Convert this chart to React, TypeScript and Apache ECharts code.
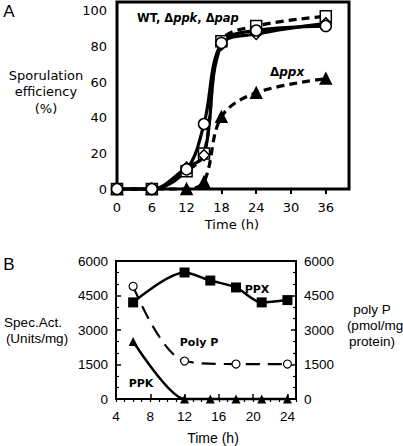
import React, { useEffect, useRef } from "react";
import * as echarts from "echarts";

// Panel A: sporulation efficiency (%)
const aTime = [0, 6, 12, 15, 18, 24, 36];
const wt = [0, 0, 11, 36.5, 82, 89, 91.5];
const dppk = [0, 0, 12, 19, 81, 87, 93];
const dpap = [0, 0, 10, 20, 83, 91.5, 97];
const dppx = [0, 0, 0, 4, 40.5, 54, 62];
const aXTicks = [0, 6, 12, 18, 24, 30, 36];
const aYTicks = [0, 20, 40, 60, 80, 100];

// Panel B
const bTime = [6, 12, 15, 18, 21, 24];
const ppx = [4200, 5500, 5150, 4850, 4200, 4300];
const ppk = [2500, 0, 0, 0, 0, 0];
const polyTime = [6, 12, 18, 24];
const polyP = [4900, 1650, 1520, 1520];
const bXTicks = [4, 8, 12, 16, 20, 24];

const FA = "DejaVu Sans";
const FB = "Liberation Sans";

function pairs(xs: number[], ys: number[]) {
  return xs.map((x, i) => [x, ys[i]]);
}

export default function App() {
  const ref = useRef<HTMLDivElement>(null);
  useEffect(() => {
    const chart = echarts.init(ref.current!, undefined, { renderer: "svg" });
    const txt = (x: number, y: number, text: string, size: number, font: string, extra: any = {}) => ({
      type: "text",
      x,
      y,
      style: {
        text,
        fontSize: size,
        fontFamily: font,
        fill: "#000",
        textAlign: "center",
        textVerticalAlign: "middle",
        ...extra,
      },
    });
    const aSeries = (name: string, ys: number[], symbol: string, filled: boolean, dashed: boolean, size: number) => ({
      name,
      type: "line",
      xAxisIndex: 0,
      yAxisIndex: 0,
      data: pairs(aTime, ys),
      smooth: 0.35,
      clip: false,
      symbol,
      symbolSize: size,
      showAllSymbol: true,
      lineStyle: { color: "#000", width: 3.2, type: dashed ? [8, 5] : "solid" },
      itemStyle: { color: filled ? "#000" : "#fff", borderColor: "#000", borderWidth: 1.5 },
    });
    const plain = (v: number) => String(v);
    chart.setOption({
      animation: false,
      backgroundColor: "#fff",
      grid: [
        { left: 117, top: 2, width: 232, height: 187, show: true, borderColor: "#000", borderWidth: 3, backgroundColor: "transparent" },
        { left: 116, top: 261, width: 180, height: 138, show: true, borderColor: "#000", borderWidth: 2, backgroundColor: "transparent" },
      ],
      xAxis: [
        {
          type: "value", gridIndex: 0, min: 0, max: 40,
          splitLine: { show: false },
          axisLine: { show: false },
          axisTick: { show: true, inside: false, length: 5, lineStyle: { color: "#000", width: 2 }, customValues: aXTicks },
          axisLabel: { color: "#000", fontFamily: FA, fontSize: 13, margin: 12, customValues: aXTicks, formatter: plain },
        },
        {
          type: "value", gridIndex: 1, min: 4, max: 25,
          splitLine: { show: false },
          axisLine: { show: false },
          axisTick: { show: true, inside: true, length: 5, lineStyle: { color: "#000", width: 1.5 }, customValues: bXTicks },
          axisLabel: { color: "#000", fontFamily: FB, fontSize: 13.5, margin: 10, customValues: bXTicks, formatter: plain },
        },
        {
          type: "value", gridIndex: 1, min: 4, max: 25, interval: 1,
          splitLine: { show: false },
          axisLine: { show: false },
          axisTick: { show: true, inside: true, length: 3, lineStyle: { color: "#000", width: 1.2 } },
          axisLabel: { show: false },
        },
      ],
      yAxis: [
        {
          type: "value", gridIndex: 0, min: 0, max: 105,
          splitLine: { show: false },
          axisLine: { show: false },
          axisTick: { show: false },
          axisLabel: { color: "#000", fontFamily: FA, fontSize: 13, margin: 10, customValues: aYTicks, formatter: plain },
        },
        {
          type: "value", gridIndex: 1, min: 0, max: 6000, interval: 1500, position: "left",
          splitLine: { show: false },
          axisLine: { show: false },
          axisTick: { show: true, inside: true, length: 5, lineStyle: { color: "#000", width: 1.5 } },
          minorTick: { show: true, splitNumber: 3, length: 3, lineStyle: { color: "#000", width: 1.2 } },
          axisLabel: { color: "#000", fontFamily: FB, fontSize: 13.5, margin: 8, formatter: plain },
        },
        {
          type: "value", gridIndex: 1, min: 0, max: 6000, interval: 1500, position: "right",
          splitLine: { show: false },
          axisLine: { show: false },
          axisTick: { show: true, inside: true, length: 5, lineStyle: { color: "#000", width: 1.5 } },
          minorTick: { show: true, splitNumber: 3, length: 3, lineStyle: { color: "#000", width: 1.2 } },
          axisLabel: { color: "#000", fontFamily: FB, fontSize: 13.5, margin: 8, formatter: plain },
        },
      ],
      series: [
        aSeries("Δppx", dppx, "triangle", true, true, 11),
        aSeries("Δpap", dpap, "rect", false, true, 11),
        aSeries("Δppk", dppk, "diamond", false, false, 11),
        aSeries("WT", wt, "circle", false, false, 11),
        {
          name: "PPX", type: "line", xAxisIndex: 1, yAxisIndex: 1, data: pairs(bTime, ppx),
          smooth: 0.3, clip: false, symbol: "rect", symbolSize: 10,
          lineStyle: { color: "#000", width: 2.5 }, itemStyle: { color: "#000" },
        },
        {
          name: "Poly P", type: "line", xAxisIndex: 1, yAxisIndex: 2, data: pairs(polyTime, polyP),
          smooth: 0.35, clip: false, symbol: "circle", symbolSize: 8,
          lineStyle: { color: "#000", width: 2.2, type: [14, 8] },
          itemStyle: { color: "#fff", borderColor: "#000", borderWidth: 1.2 },
        },
        {
          name: "PPK", type: "line", xAxisIndex: 1, yAxisIndex: 1, data: pairs(bTime, ppk),
          smooth: 0.25, clip: false, symbol: "triangle", symbolSize: 9,
          lineStyle: { color: "#000", width: 2.5 }, itemStyle: { color: "#000" },
        },
      ],
      graphic: [
        txt(9, 11, "A", 17, FB),
        txt(9, 264, "B", 17, FB),
        txt(46, 75, "Sporulation", 13, FA),
        txt(46, 91, "efficiency", 13, FA),
        txt(46, 108, "(%)", 13, FA),
        txt(232, 224, "Time (h)", 13, FA),
        {
          type: "text", x: 137, y: 18,
          style: {
            text: "{b|WT, Δ}{i|ppk}{b|, Δ}{i|pap}",
            textVerticalAlign: "middle",
            rich: {
              b: { fontFamily: FA, fontSize: 11.5, fontWeight: "bold", fill: "#000", color: "#000" },
              i: { fontFamily: FA, fontSize: 11.5, fontWeight: "bold", fontStyle: "italic", fill: "#000", color: "#000" },
            },
          },
        },
        {
          type: "text", x: 270, y: 72,
          style: {
            text: "{b|Δ}{i|ppx}",
            textVerticalAlign: "middle",
            rich: {
              b: { fontFamily: FA, fontSize: 12, fontWeight: "bold", fill: "#000", color: "#000" },
              i: { fontFamily: FA, fontSize: 12, fontWeight: "bold", fontStyle: "italic", fill: "#000", color: "#000" },
            },
          },
        },
        txt(33, 322, "Spec.Act.", 13.5, FB),
        txt(37, 338, "(Units/mg)", 13.5, FB),
        txt(372, 309, "poly P", 13.5, FB),
        txt(375, 325, "(pmol/mg", 13.5, FB),
        txt(372, 341, "protein)", 13.5, FB),
        txt(213, 438, "Time (h)", 14, FB),
        txt(257, 289, "PPX", 11, FA, { fontWeight: "bold" }),
        txt(199, 342, "Poly P", 11, FA, { fontWeight: "bold" }),
        txt(141, 383, "PPK", 11, FA, { fontWeight: "bold" }),
      ],
    });
    return () => chart.dispose();
  }, []);
  return <div ref={ref} style={{ position: "absolute", left: 0, top: 0, width: 403, height: 446 }} />;
}
